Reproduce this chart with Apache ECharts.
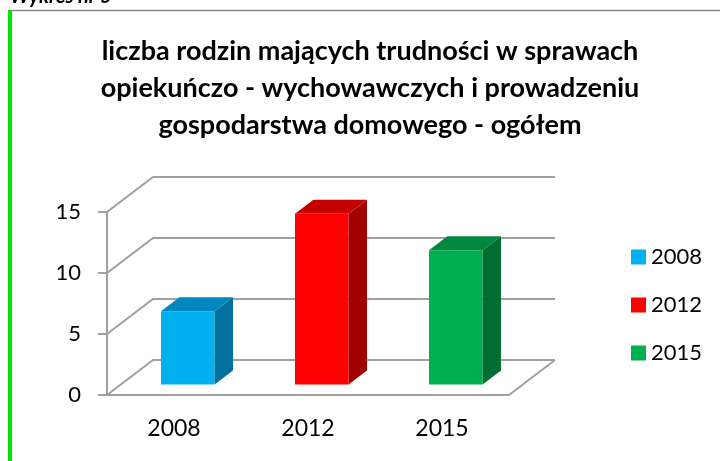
<!DOCTYPE html>
<html>
<head>
<meta charset="utf-8">
<script src="https://cdn.jsdelivr.net/npm/echarts@6/dist/echarts.min.js"></script>
<style>
    html, body { margin: 0; padding: 0; background: #fff; }
    #chart { width: 720px; height: 461px; }
</style>
</head>
<body>
<div id="chart"></div>
<script>
// dane wykresu
const years = ['2008', '2012', '2015'];
const values = [6, 14, 11];
const wallTicks = [0, 5, 10, 15];

// kolory scian slupkow
const frontColors = ['#00b0f0', '#ff0000', '#00b050'];
const topColors = ['#0088c2', '#c40000', '#00883e'];
const sideColors = ['#00709e', '#a00000', '#006e32'];

// glebokosc "3D"
const DX = 46, DY = -35;
const LINE = '#a0a0a0';
const FONT = 'Lato';

document.addEventListener('DOMContentLoaded', function() {
    const chart = echarts.init(document.getElementById('chart'));

    // sciana tylna i podloga
    function renderWall(params, api) {
        const v = api.value(1);
        const p = api.coord([0, v]);
        const cs = params.coordSys;
        const left = cs.x, right = cs.x + cs.width;
        const y = p[1];
        const children = [{
            type: 'polyline',
            shape: { points: [[left, y], [left + DX, y + DY], [right + DX, y + DY]] },
            style: { stroke: LINE, lineWidth: 2, fill: null }
        }];
        if (v === 0) {
            children.push({
                type: 'line',
                shape: { x1: right, y1: y, x2: right + DX, y2: y + DY },
                style: { stroke: LINE, lineWidth: 2 }
            });
        }
        return { type: 'group', children: children };
    }

    // slupek 3D
    function renderBar(params, api) {
        const i = api.value(0);
        const v = api.value(1);
        const base = api.coord([i, 0]);
        const top = api.coord([i, v]);
        const w = api.size([1, 0])[0] * 0.4;
        const fx = DX * 0.3, fy = DY * 0.3;
        const bx = DX * 0.4, by = DY * 0.4;
        const x0 = base[0] - w / 2 + fx, x1 = x0 + w;
        const yb = base[1] + fy, yt = top[1] + fy;
        return {
            type: 'group',
            children: [
                { type: 'rect', shape: { x: x0, y: yt, width: w, height: yb - yt }, style: { fill: frontColors[i] } },
                { type: 'polygon', shape: { points: [[x1, yt], [x1 + bx, yt + by], [x1 + bx, yb + by], [x1, yb]] }, style: { fill: sideColors[i] } },
                { type: 'polygon', shape: { points: [[x0, yt], [x1, yt], [x1 + bx, yt + by], [x0 + bx, yt + by]] }, style: { fill: topColors[i] } }
            ]
        };
    }

    const series = [{
        type: 'custom',
        name: 'wall',
        silent: true,
        z: 1,
        renderItem: renderWall,
        encode: { x: 0, y: 1 },
        data: wallTicks.map(v => [0, v])
    }];
    years.forEach((y, i) => {
        series.push({
            type: 'custom',
            name: y,
            z: 3,
            renderItem: renderBar,
            encode: { x: 0, y: 1 },
            itemStyle: { color: frontColors[i] },
            data: [[i, values[i]]]
        });
    });

    const option = {
        animation: false,
        graphic: [
            {
                type: 'text', x: 10, y: 7,
                style: { text: 'Wykres nr 5', fontSize: 20, fontWeight: 'bold', fontStyle: 'italic', fontFamily: FONT, fill: '#000', verticalAlign: 'bottom' }
            },
            { type: 'rect', shape: { x: 8, y: 10, width: 4, height: 451 }, style: { fill: '#00e400' } },
            { type: 'line', shape: { x1: 12, y1: 10.5, x2: 720, y2: 10.5 }, style: { stroke: '#888', lineWidth: 1.5 } },
            {
                type: 'text', x: 370, y: 33,
                style: {
                    text: 'liczba rodzin mających trudności w sprawach\nopiekuńczo - wychowawczych i prowadzeniu\ngospodarstwa domowego - ogółem',
                    fontSize: 27, fontWeight: 'bold', fontFamily: FONT, fill: '#000',
                    lineHeight: 37, align: 'center', verticalAlign: 'top'
                }
            }
        ],
        legend: {
            orient: 'vertical',
            left: 626,
            top: 241,
            icon: 'rect',
            itemWidth: 15,
            itemHeight: 15,
            itemGap: 26,
            data: years,
            textStyle: { fontSize: 22, fontFamily: FONT, color: '#000', lineHeight: 22 }
        },
        grid: { left: 107, right: 211, top: 212, bottom: 66 },
        xAxis: {
            type: 'category',
            data: years,
            axisLine: { lineStyle: { color: LINE, width: 2 } },
            axisTick: { length: 8, lineStyle: { color: LINE, width: 2 } },
            axisLabel: { fontSize: 23, fontFamily: FONT, color: '#000', margin: 22 }
        },
        yAxis: {
            type: 'value',
            min: 0,
            max: 15,
            interval: 5,
            axisLine: { show: true, lineStyle: { color: LINE, width: 2 } },
            axisTick: { show: true, length: 9, lineStyle: { color: LINE, width: 2 } },
            splitLine: { show: false },
            axisLabel: { fontSize: 22, fontFamily: FONT, color: '#000', margin: 26 }
        },
        series: series
    };
    chart.setOption(option);

    window.addEventListener('resize', function() {
        chart.resize();
    });
});
</script>
</body>
</html>
